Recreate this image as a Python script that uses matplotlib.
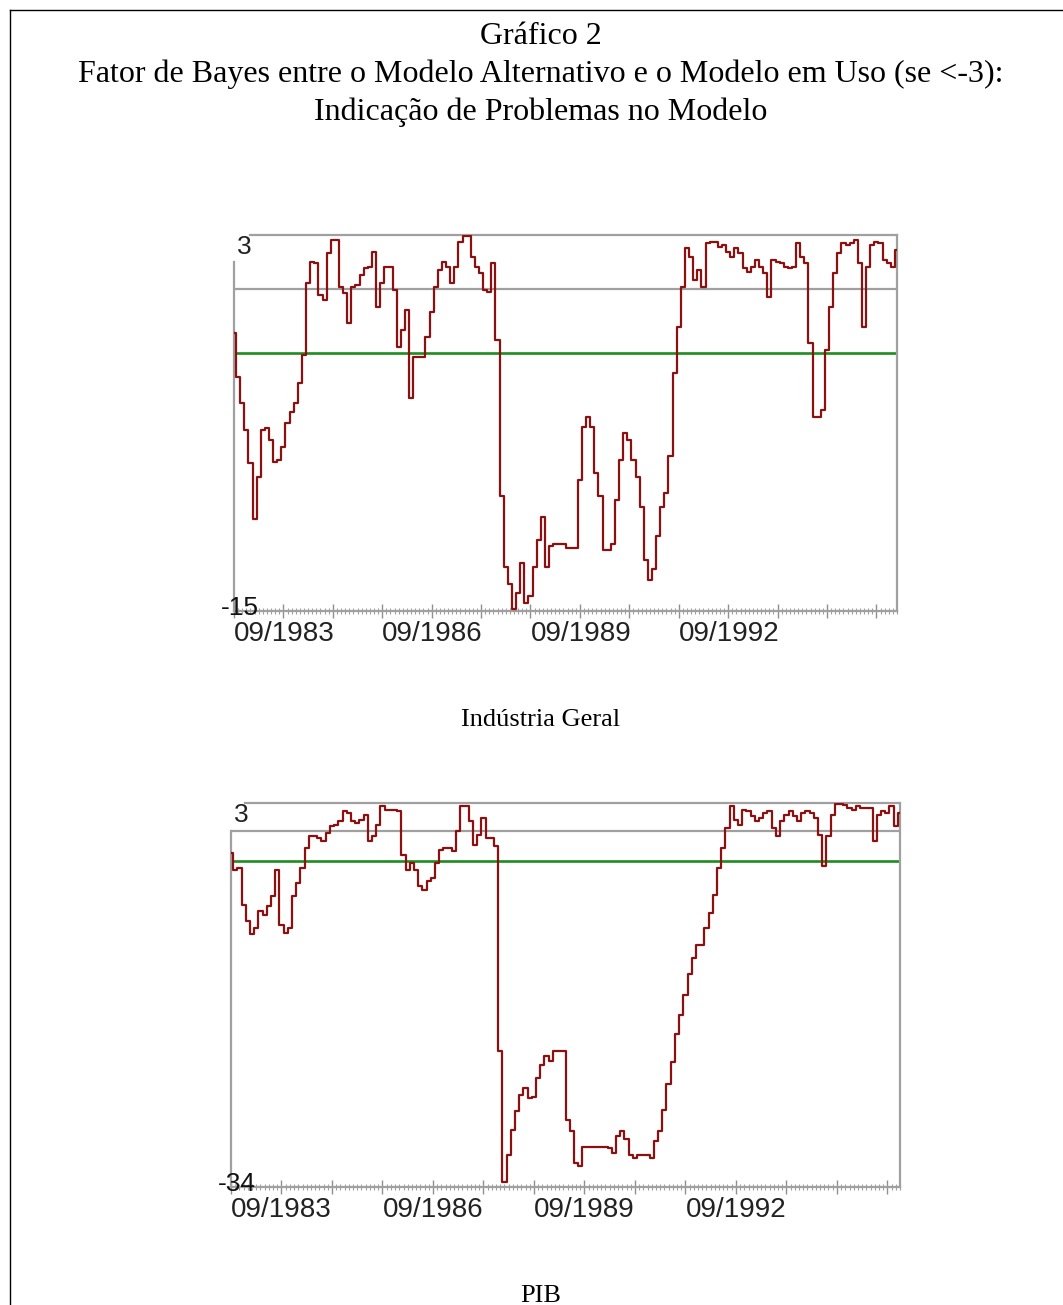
import numpy as np
import matplotlib.pyplot as plt
from matplotlib.lines import Line2D

# valores (um por mes, a partir de 09/1983)
ind_geral = [-1.7, -3.8, -5.06, -6.33, -7.93, -10.6, -8.57, -6.33, -6.25, -6.8,
             -7.85, -7.77, -7.13, -6.0, -5.46, -5.06, -4.1, -2.74, 0.69, 1.72,
             1.64, 0.13, -0.11, 2.12, 2.76, 2.76, 0.53, 0.2, -1.23, 0.53,
             0.6, 1.09, 1.4, 1.48, 2.2, -0.43, 0.69, 1.48, 1.48, 0.37,
             -2.35, -1.55, -0.6, -4.8, -2.82, -2.82, -2.82, -1.87, -0.67, 0.53,
             1.33, 1.72, 1.48, 0.69, 1.48, 2.68, 2.95, 2.95, 1.96, 1.48,
             1.16, 0.37, 0.29, 1.64, -2.03, -9.5, -12.9, -13.7, -14.9, -14.15,
             -12.7, -14.6, -14.3, -12.9, -11.6, -10.5, -12.9, -11.9, -11.8, -11.8,
             -11.8, -12.0, -12.0, -12.0, -8.73, -6.2, -5.7, -6.2, -8.4, -9.5,
             -12.1, -12.1, -11.8, -9.7, -7.77, -6.5, -6.8, -7.77, -8.57, -10.0,
             -12.56, -13.5, -13.0, -11.4, -10.0, -9.37, -7.6, -3.62, -1.39, 0.53,
             2.36, 1.96, 0.85, 1.32, 0.53, 2.6, 2.68, 2.68, 2.44, 2.52,
             2.2, 1.96, 2.36, 2.12, 1.4, 1.24, 1.48, 1.8, 1.48, 1.16,
             0.05, 1.8, 1.72, 1.64, 1.48, 1.4, 1.48, 2.6, 1.96, 1.64,
             -2.19, -5.7, -5.7, -5.38, -2.5, -0.43, 1.16, 2.12, 2.6, 2.52,
             2.6, 2.76, 1.64, -1.39, 1.48, 2.52, 2.68, 2.6, 1.8, 1.64,
             1.48, 2.28]

pib = [-1.82, -3.42, -3.26, -6.8, -8.4, -9.6, -9.05, -7.44, -7.76, -6.96,
       -6.0, -3.42, -8.72, -9.53, -9.05, -6.0, -4.7, -3.26, -1.34, -0.21,
       -0.21, -0.37, -0.69, 0.11, 0.75, 0.91, 1.23, 2.2, 2.04, 1.23,
       1.07, 1.39, 1.88, -0.69, -0.21, 0.91, 2.68, 2.36, 2.36, 2.36,
       2.2, -1.98, -3.42, -2.78, -3.42, -5.03, -5.35, -4.55, -4.23, -2.78,
       -1.5, -1.34, -1.34, -1.66, 0.27, 2.68, 2.68, 1.23, -1.02, -0.05,
       1.55, -0.37, -0.37, -1.18, -20.9, -33.5, -30.9, -28.5, -26.7, -25.1,
       -24.5, -25.4, -25.3, -23.5, -22.2, -21.4, -21.9, -20.9, -20.9, -20.9,
       -27.5, -28.6, -31.7, -32.0, -30.1, -30.1, -30.1, -30.1, -30.1, -30.1,
       -30.2, -30.7, -29.1, -28.6, -29.4, -30.9, -31.2, -30.9, -30.9, -30.9,
       -31.2, -29.6, -28.6, -26.6, -24.1, -22.0, -19.3, -17.4, -15.5, -13.5,
       -11.9, -10.65, -10.65, -9.05, -7.6, -5.83, -3.26, -1.34, 0.59, 2.68,
       1.39, 0.91, 2.36, 2.2, 1.72, 1.23, 1.55, 2.04, 2.2, 0.59,
       -0.21, 1.23, 1.88, 2.2, 1.72, 1.23, 2.04, 2.2, 2.04, 1.55,
       -0.05, -3.1, -0.21, 1.88, 2.9, 2.9, 2.84, 2.52, 2.36, 2.68,
       2.52, 2.52, 2.52, -0.69, 1.88, 2.2, 2.04, 2.68, 0.75, 2.04]

rotulos_x = ['09/1983', '09/1986', '09/1989', '09/1992']
limites_ind = (-15, 3)
limites_pib = (-34, 3)
linhas_ind = (0.4, -2.65)   # linha cinza, linha verde
linhas_pib = (0.3, -2.6)

W, H = 1063, 1305
fig = plt.figure(figsize=(W / 100, H / 100), dpi=100)
tick_font = ['Liberation Sans', 'DejaVu Sans']
serif = ['Liberation Serif', 'DejaVu Serif']


def fx(x):
    return x / W


def fy(y):
    return 1 - y / H


def painel(box, serie, limites, linhas, esq_topo, top_ini, rot_top, rot_bot):
    x0, x1, y0, y1 = box
    ax = fig.add_axes([fx(x0), fy(y1), (x1 - x0) / W, (y1 - y0) / H])
    n = len(serie)
    ax.plot(np.arange(n), serie, color='#8b1111', lw=1.6, zorder=3,
            drawstyle='steps-mid')
    ax.axhline(linhas[0], color='#a0a0a0', lw=1.6, zorder=2)
    ax.axhline(linhas[1], color='#1e8c1e', lw=1.9, zorder=2)
    ax.set_xlim(0, n - 1)
    ax.set_ylim(*limites)

    for s in ['top', 'left']:
        ax.spines[s].set_visible(False)
    ax.spines['right'].set_color('#a0a0a0')
    ax.spines['right'].set_linewidth(1.6)
    ax.spines['bottom'].set_color('#a0a0a0')
    ax.spines['bottom'].set_linewidth(1.6)
    ax.add_line(Line2D([0, 0], [0, esq_topo], transform=ax.transAxes,
                       color='#a0a0a0', lw=1.6, clip_on=False))
    ax.add_line(Line2D([top_ini, 1], [1, 1], transform=ax.transAxes,
                       color='#a0a0a0', lw=1.6, clip_on=False))

    maj = list(range(0, n, 12))
    labs = [''] * len(maj)
    for k, r in enumerate(rotulos_x):
        labs[3 * k] = r
    ax.set_xticks(maj)
    ax.set_xticklabels(labs, family=tick_font, fontsize=20, color='#222222')
    ax.set_xticks(range(0, n, 1), minor=True)
    for lab in ax.get_xticklabels():
        lab.set_ha('left')
    ax.tick_params(axis='x', which='major', direction='inout', length=10,
                   width=1, color='#909090', pad=2)
    ax.tick_params(axis='x', which='minor', direction='inout', length=4,
                   width=0.8, color='#a0a0a0')
    ax.set_yticks([])

    fig.text(fx(x0 + 3), fy(y0 + 12), rot_top, family=tick_font, fontsize=19,
             color='#222222', ha='left', va='center')
    fig.text(fx(x0 - 13), fy(y1 - 3), rot_bot, family=tick_font, fontsize=19,
             color='#111111', ha='left', va='center')
    return ax


painel((234, 897, 235, 611), ind_geral, limites_ind, linhas_ind,
       (611 - 262) / (611 - 235), 0.024, '3', '-15')
painel((231, 900, 803, 1187), pib, limites_pib, linhas_pib,
       (1187 - 831) / (1187 - 803), 0.021, '3', '-34')

titulos = ['Gráfico 2',
           'Fator de Bayes entre o Modelo Alternativo e o Modelo em Uso (se <-3):',
           'Indicação de Problemas no Modelo']
for t, y in zip(titulos, [36, 74, 112]):
    fig.text(fx(541), fy(y), t, family=serif, fontsize=23, ha='center', va='center')
fig.text(fx(541), fy(720), 'Indústria Geral', family=serif, fontsize=19,
         ha='center', va='center')
fig.text(fx(541), fy(1296), 'PIB', family=serif, fontsize=19,
         ha='center', va='center')

# moldura da pagina
fig.add_artist(Line2D([fx(10), fx(10)], [fy(10), 0], color='black', lw=1))
fig.add_artist(Line2D([fx(10), 1], [fy(10), fy(10)], color='black', lw=1))

fig.savefig('out.png', dpi=100)
